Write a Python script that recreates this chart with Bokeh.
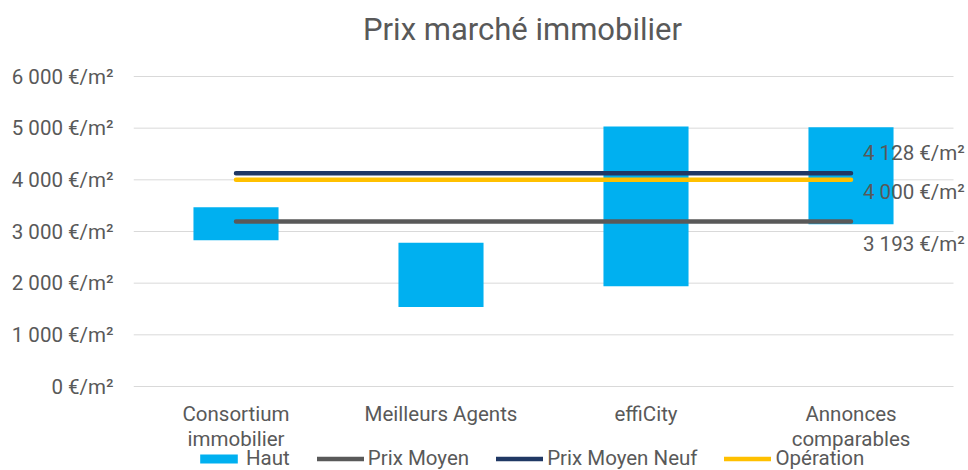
from bokeh.plotting import figure
from bokeh.models import Range1d, FixedTicker, Legend, LegendItem, Label
from bokeh.embed import file_html
from bokeh.resources import INLINE

# ---- data ----
chart_title = "Prix marché immobilier"
categories = ["Consortium\nimmobilier", "Meilleurs Agents", "effiCity", "Annonces\ncomparables"]
bas = [2830, 1540, 1940, 3140]        # bottom of floating bar
haut = [3470, 2780, 5030, 5020]       # top of floating bar ("Haut")
prix_moyen = 3193
prix_moyen_neuf = 4128
operation = 4000
y_ticks = [0, 1000, 2000, 3000, 4000, 5000, 6000]
y_tick_labels = ["0 €/m²", "1 000 €/m²", "2 000 €/m²", "3 000 €/m²",
                 "4 000 €/m²", "5 000 €/m²", "6 000 €/m²"]
legend_labels = ["Haut", "Prix Moyen", "Prix Moyen Neuf", "Opération"]

# ---- style / layout ----
FONT = "Roboto"
GREY = "#595959"
C_BAR = "#00B0F0"
C_MOY = "#595959"
C_NEUF = "#203864"
C_OP = "#FFC000"
FS = "20.5px"

W, H = 968, 470
LEFT = 133                # frame left edge (room for y labels)
GRID_W = 820              # pixel width of the category area
Y_BOT_PX, Y_TOP_PX = 386, 76   # pixel rows of first / last y tick

n = len(categories)
xc = [i + 0.5 for i in range(n)]          # category centres
x_end = n * (W - LEFT) / GRID_W
ppu = (Y_BOT_PX - Y_TOP_PX) / (y_ticks[-1] - y_ticks[0])   # pixels per unit
y_start = y_ticks[0] - (H - Y_BOT_PX) / ppu
y_end = y_ticks[-1] + Y_TOP_PX / ppu


def fmt(v):
    return f"{v:,}".replace(",", " ") + " €/m²"


p = figure(width=W, height=H, x_range=Range1d(0, x_end),
           y_range=Range1d(y_start, y_end),
           output_backend="svg", toolbar_location=None,
           min_border_left=LEFT, min_border_right=0, min_border_top=0,
           min_border_bottom=0)
p.outline_line_color = None
p.background_fill_color = "white"
p.border_fill_color = "white"
p.xgrid.grid_line_color = None
p.ygrid.grid_line_color = None
p.xaxis.visible = False

# grid (stops at the last category)
p.segment(x0=[0] * len(y_ticks), x1=[n] * len(y_ticks), y0=y_ticks, y1=y_ticks,
          line_color="#D9D9D9", line_width=1)

# y axis
p.yaxis.ticker = FixedTicker(ticks=y_ticks)
p.yaxis.major_label_overrides = dict(zip(y_ticks, y_tick_labels))
p.yaxis.axis_line_color = None
p.yaxis.major_tick_line_color = None
p.yaxis.minor_tick_line_color = None
p.yaxis.major_tick_out = 0
p.yaxis.major_tick_in = 0
p.yaxis.major_label_standoff = 20
p.yaxis.major_label_text_font = FONT
p.yaxis.major_label_text_font_size = FS
p.yaxis.major_label_text_color = GREY

# title
p.add_layout(Label(x=n / 2, y=y_ticks[-1], x_offset=-21, y_offset=47, text=chart_title,
                   text_font=FONT, text_font_size="31px", text_color=GREY,
                   text_align="center", text_baseline="middle"))

# category labels under the chart
for x, cat in zip(xc, categories):
    p.add_layout(Label(x=x, y=y_ticks[0], y_offset=-15, text=cat,
                       text_font=FONT, text_font_size=FS, text_color=GREY,
                       text_align="center", text_baseline="top",
                       text_line_height=1.08))

# bars
r_bar = p.vbar(x=xc, bottom=bas, top=haut, width=0.415,
               fill_color=C_BAR, line_color=None)

# horizontal reference lines
r_moy = p.line(x=xc, y=[prix_moyen] * n, line_color=C_MOY,
               line_width=4.5, line_cap="round")
r_neuf = p.line(x=xc, y=[prix_moyen_neuf] * n, line_color=C_NEUF,
                line_width=4.5, line_cap="round")
r_op = p.line(x=xc, y=[operation] * n, line_color=C_OP,
              line_width=4.5, line_cap="round")

# value labels at the right end
for v, dy in [(prix_moyen_neuf, 20), (operation, -12), (prix_moyen, -22)]:
    p.add_layout(Label(x=xc[-1], y=v, x_offset=12, y_offset=dy, text=fmt(v),
                       text_font=FONT, text_font_size=FS, text_color=GREY,
                       text_baseline="middle", text_align="left"))

legend = Legend(items=[LegendItem(label=legend_labels[0], renderers=[r_bar]),
                       LegendItem(label=legend_labels[1], renderers=[r_moy]),
                       LegendItem(label=legend_labels[2], renderers=[r_neuf]),
                       LegendItem(label=legend_labels[3], renderers=[r_op])],
                orientation="horizontal", location=(62, 0),
                glyph_width=47, glyph_height=11, label_standoff=4, spacing=27,
                padding=0, margin=0, border_line_color=None, background_fill_alpha=0,
                label_text_font=FONT, label_text_font_size=FS, label_text_color=GREY,
                label_height=20)
p.add_layout(legend, "center")

open("out.html", "w").write(file_html(p, INLINE))
